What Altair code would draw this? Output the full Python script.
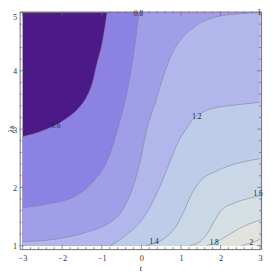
import altair as alt
import pandas as pd

# ---------------- data ----------------
levels = [0.6, 0.8, 1.0, 1.2, 1.4, 1.6, 1.8, 2.0]
band_colors = ["#4b1a88", "#8c82e4", "#a19ee8", "#b1b7ea", "#bdcce8",
               "#c9d7e6", "#d6dfe3", "#e1e3dc", "#ebe6d7"]

c06_t = [-3.00, -2.46, -1.94, -1.60, -1.40, -1.23, -1.13, -0.98, -0.91, -0.86]
c06_l = [2.87, 2.98, 3.16, 3.35, 3.53, 3.81, 4.10, 4.51, 4.79, 5.00]

c08_t = [-3.00, -2.34, -1.67, -1.18, -0.86, -0.69, -0.52, -0.37, -0.25, -0.15, -0.10, -0.05]
c08_l = [1.65, 1.72, 1.85, 2.13, 2.46, 2.79, 3.20, 3.61, 4.07, 4.51, 4.79, 5.00]

c10_t = [-3.00, -2.09, -1.35, -0.86, -0.49, -0.30, -0.12, 0.00, 0.12, 0.37, 0.57, 0.76, 1.01, 1.35, 1.92, 2.51, 3.00]
c10_l = [1.07, 1.12, 1.24, 1.37, 1.60, 1.85, 2.21, 2.54, 2.95, 3.49, 3.94, 4.27, 4.55, 4.76, 4.93, 4.98, 5.00]

c12_t = [-0.79, -0.57, -0.37, -0.12, 0.12, 0.32, 0.49, 0.66, 0.81, 0.96, 1.11, 1.28, 1.48, 1.77, 2.34, 3.00]
c12_l = [1.00, 1.09, 1.19, 1.34, 1.55, 1.80, 2.05, 2.33, 2.59, 2.82, 2.98, 3.15, 3.26, 3.35, 3.41, 3.46]

c14_t = [0.12, 0.37, 0.61, 0.86, 1.06, 1.25, 1.43, 1.60, 1.80, 2.21, 2.58, 3.00]
c14_l = [1.00, 1.05, 1.14, 1.32, 1.57, 1.86, 2.06, 2.18, 2.25, 2.37, 2.44, 2.49]

c16_t = [1.23, 1.48, 1.67, 1.84, 2.04, 2.34, 2.71, 3.00]
c16_l = [1.00, 1.07, 1.21, 1.42, 1.62, 1.73, 1.81, 1.86]

c18_t = [1.65, 1.89, 2.14, 2.41, 2.71, 3.00]
c18_l = [1.00, 1.06, 1.16, 1.27, 1.37, 1.44]

c20_t = [2.53, 2.78, 3.00]
c20_l = [1.00, 1.05, 1.11]

contours = [(c06_t, c06_l), (c08_t, c08_l), (c10_t, c10_l), (c12_t, c12_l),
            (c14_t, c14_l), (c16_t, c16_l), (c18_t, c18_l), (c20_t, c20_l)]

label_text = ["0.6", "0.8", "1", "1.2", "1.4", "1.6", "1.8", "2"]
label_t = [-2.16, -0.07, 2.98, 1.40, 0.32, 2.95, 1.84, 2.78]
label_l = [3.06, 4.98, 4.99, 3.20, 1.06, 1.88, 1.05, 1.04]

x_major = [-3, -2, -1, 0, 1, 2, 3]
y_major = [1, 2, 3, 4, 5]
x_minor = [round(-3 + 0.2 * i, 1) for i in range(31) if i % 5]
y_minor = [round(1 + 0.2 * i, 1) for i in range(21) if i % 5]

T_MIN, T_MAX, L_MIN, L_MAX = -3.0, 3.0, 1.0, 5.0

# ---------------- layout ----------------
W, H = 248, 244
FRAME = "#6e6e6e"
FONT = "Liberation Serif"

xs = alt.Scale(domain=[-3.0738, 3.0246], nice=False, zero=False)
ys = alt.Scale(domain=[0.9415, 5.0167], nice=False, zero=False)

xaxis = alt.Axis(values=x_major, ticks=False, domain=False, grid=False,
                 labelFont=FONT, labelFontSize=8.5, labelColor="#333333",
                 labelPadding=5, labelFlush=False, title="t",
                 titleFont=FONT, titleFontSize=9.5, titleFontStyle="italic",
                 titleFontWeight="normal", titleColor="#333333", titlePadding=1)
yaxis = alt.Axis(values=y_major, ticks=False, domain=False, grid=False,
                 labelFont=FONT, labelFontSize=8.5, labelColor="#333333",
                 labelPadding=3, labelFlush=2, title="λκ",
                 titleFont=FONT, titleFontSize=8.5, titleFontStyle="italic",
                 titleFontWeight="normal", titleColor="#333333",
                 titleX=-6.5, titleY=H / 2 - 2, titleAngle=270,
                 titleBaseline="alphabetic")

X = alt.X("t:Q", scale=xs, axis=xaxis)
Y = alt.Y("lam:Q", scale=ys, axis=yaxis)

layers = []

# base fill (lowest band)
base_df = pd.DataFrame({"t": [T_MIN, T_MAX], "lam": [L_MAX, L_MAX], "base": [L_MIN, L_MIN]})
layers.append(alt.Chart(base_df).mark_area(color=band_colors[0], orient="vertical")
              .encode(x=X, y=Y, y2="base:Q"))

# filled bands: region >= level lies below/right of each contour
for (ts, ls), col in zip(contours, band_colors[1:]):
    ts, ls = list(ts), list(ls)
    if ts[0] > T_MIN:
        ts = [T_MIN] + ts
        ls = [L_MIN] + ls
    if ts[-1] < T_MAX:
        ts = ts + [T_MAX]
        ls = ls + [L_MAX]
    df = pd.DataFrame({"t": ts, "lam": ls, "base": [L_MIN] * len(ts)})
    layers.append(alt.Chart(df).mark_area(color=col, orient="vertical", interpolate="monotone")
                  .encode(x=X, y=Y, y2="base:Q"))

# contour lines
for lev, (ts, ls) in zip(levels, contours):
    df = pd.DataFrame({"t": ts, "lam": ls})
    layers.append(alt.Chart(df).mark_line(color="#7d7d8c", strokeWidth=0.9, opacity=0.6,
                                          interpolate="monotone")
                  .encode(x=X, y=Y))

# contour labels
lab_df = pd.DataFrame({"t": label_t, "lam": label_l, "txt": label_text})
layers.append(alt.Chart(lab_df).mark_text(font=FONT, fontSize=7.5, color="#222222")
              .encode(x=X, y=Y, text="txt:N"))

# inward frame ticks
def xticks(vals, ln):
    df = pd.DataFrame({"t": vals})
    b = alt.Chart(df).mark_rule(color=FRAME, strokeWidth=0.8).encode(
        x=X, y=alt.value(H), y2=alt.value(H - ln))
    t = alt.Chart(df).mark_rule(color=FRAME, strokeWidth=0.8).encode(
        x=X, y=alt.value(0), y2=alt.value(ln))
    return [b, t]

def yticks(vals, ln):
    df = pd.DataFrame({"lam": vals})
    l = alt.Chart(df).mark_rule(color=FRAME, strokeWidth=0.8).encode(
        y=Y, x=alt.value(0), x2=alt.value(ln))
    r = alt.Chart(df).mark_rule(color=FRAME, strokeWidth=0.8).encode(
        y=Y, x=alt.value(W), x2=alt.value(W - ln))
    return [l, r]

layers += xticks(x_major, 4) + xticks(x_minor, 2) + yticks(y_major, 4) + yticks(y_minor, 2)

chart = alt.layer(*layers).properties(
    width=W, height=H,
    autosize=alt.AutoSizeParams(type="none"),
    padding={"left": 12, "top": 0, "right": 4, "bottom": 25},
    background="white",
).configure_view(stroke=FRAME, strokeWidth=1)

chart.save("out.html", embed_options={"renderer": "svg", "actions": False})
